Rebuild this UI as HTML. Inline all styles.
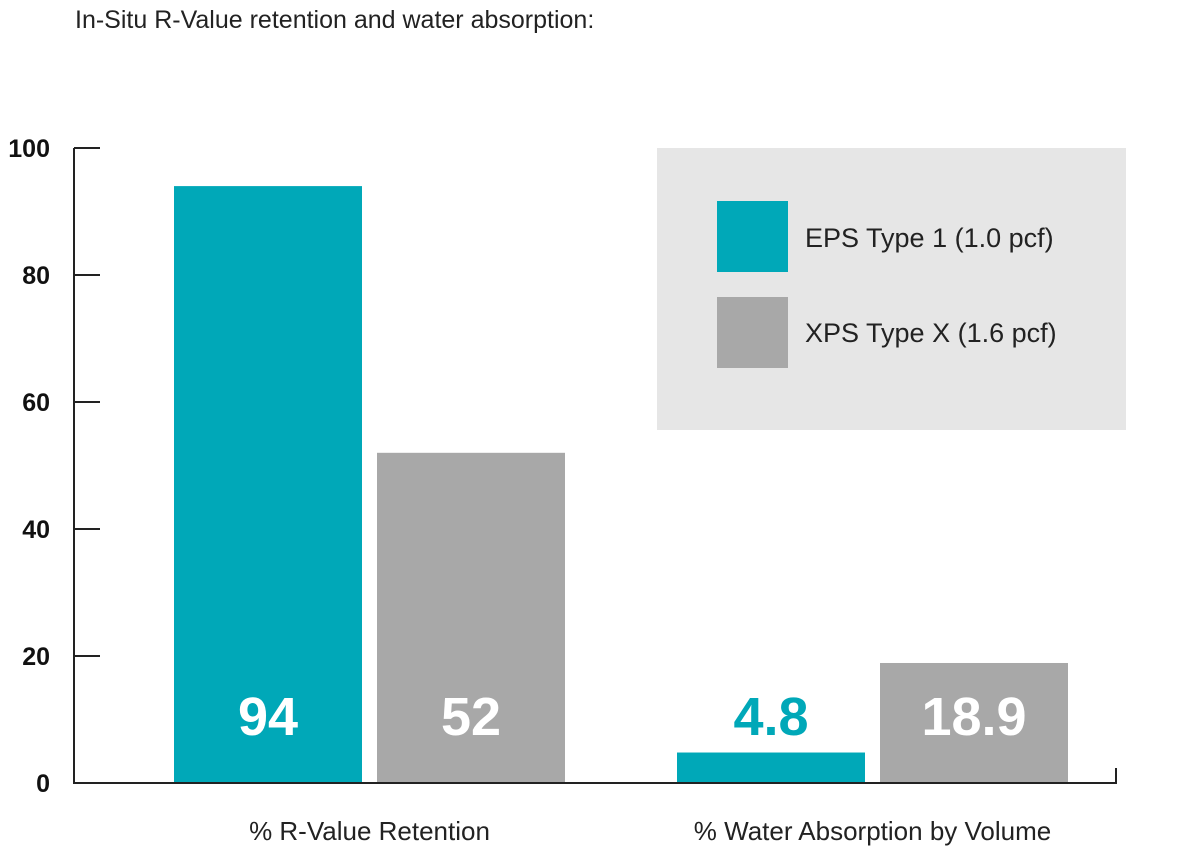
<!DOCTYPE html>
<html><head><meta charset="utf-8"><style>
body{margin:0;background:#fff;}
svg{display:block;font-family:"Liberation Sans",sans-serif;}
</style></head><body>
<svg id="chart" width="1200" height="861" viewBox="0 0 1200 861">
<text x="75" y="28" font-size="25" fill="#222">In-Situ R-Value retention and water absorption:</text>
<g id="yaxis"></g>
<g id="bars"></g>
<g>
<rect x="657" y="148" width="469" height="282" fill="#e6e6e6"/>
<rect x="717" y="201" width="71" height="71" fill="#00a8b8"/>
<text x="805" y="247" font-size="27" fill="#222">EPS Type 1 (1.0 pcf)</text>
<rect x="717" y="297" width="71" height="71" fill="#a8a8a8"/>
<text x="805" y="342" font-size="27" fill="#222">XPS Type X (1.6 pcf)</text>
</g>
</svg>
<script>
const categories = ["% R-Value Retention", "% Water Absorption by Volume"];
const epsValues = [94, 4.8];
const xpsValues = [52, 18.9];
const epsLabels = ["94", "4.8"];
const xpsLabels = ["52", "18.9"];
const yTicks = [0, 20, 40, 60, 80, 100];

const NS = "http://www.w3.org/2000/svg";
const y0 = 783, yTop = 148;
const yScale = v => y0 - (v / 100) * (y0 - yTop);
const groupStart = [174, 677];
const barW = 188, gap = 15;
const ya = document.getElementById('yaxis');
const bg = document.getElementById('bars');
function mk(tag, attrs, parent){const e=document.createElementNS(NS,tag);for(const k in attrs)e.setAttribute(k,attrs[k]);parent.appendChild(e);return e;}

yTicks.forEach(t=>{
  const y=yScale(t);
  const l=mk('line',{x1:74,x2:100,y1:y,y2:y,stroke:'#222','stroke-width':2},ya);
  
  
  const tx=mk('text',{x:50,y:y+9,'font-size':25,'font-weight':'bold','text-anchor':'end',fill:'#111'},ya);
  tx.textContent=t;
  
  
});
const al=mk('line',{x1:74,x2:74,y1:yTop,y2:y0+1,stroke:'#222','stroke-width':2},ya);



categories.forEach((c,i)=>{
  const x1=groupStart[i], x2=x1+barW+gap;
  const series=[[epsValues[i],'#00a8b8',x1,epsLabels[i],'eps'],[xpsValues[i],'#a8a8a8',x2,xpsLabels[i],'xps']];
  series.forEach(s=>{
    const y=yScale(s[0]);
    const r=mk('rect',{x:s[2],y:y,width:barW,height:y0-y,fill:s[1]},bg);
    
    
    const small = (y0-y) < 70;
    const t=mk('text',{x:s[2]+barW/2,y:735,'font-size':54,'font-weight':'bold','text-anchor':'middle',fill: small? s[1] : '#fff'},bg);
    t.textContent=s[3];
    
    
  });
  const ct=mk('text',{x:(x1+x2+barW)/2,y:840,'font-size':26,'text-anchor':'middle',fill:'#222'},bg);
  ct.textContent=c;
  
  
});
const xl=mk('path',{d:`M74 ${y0} H1116 V768`,stroke:'#222','stroke-width':2,fill:'none'},bg);


</script>
</body></html>
